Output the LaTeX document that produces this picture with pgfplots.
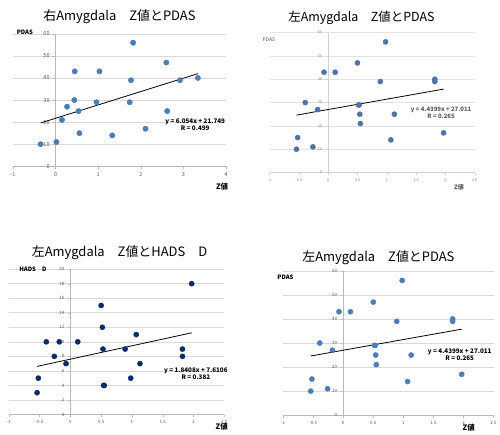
\documentclass[border=0pt]{standalone}
\usepackage{fontspec}
\setmainfont{Noto Sans CJK JP}
\usepackage{pgfplots}
\pgfplotsset{compat=1.18}
\definecolor{mk}{HTML}{4A7EBB}
\definecolor{mk2}{HTML}{4F73A8}
\definecolor{navy}{HTML}{0B2A6E}
\definecolor{tk}{HTML}{595959}

\pgfplotstableread{
x y
-0.35 10
0.02 11
0.15 21
0.27 27
0.44 30
0.54 25
0.56 15
0.45 43
1.03 43
0.96 29
1.33 14
1.74 29
1.77 39
1.82 56
2.11 17
2.60 47
2.62 25
2.92 39
3.34 40
}\rightdata

\pgfplotstableread{
x pdas hads
-0.54 10 3
-0.52 15 5
-0.39 30 10
-0.26 11 8
-0.18 27 10
-0.07 43 7
0.12 43 10
0.50 47 15
0.52 29 12
0.53 29 9
0.54 25 4
0.55 21 4
0.89 39 9
0.98 56 5
1.07 14 11
1.13 25 7
1.82 40 9
1.82 39 8
1.97 17 18
}\leftdata

\pgfplotsset{
  exstyle/.style={
    scale only axis, anchor=south west,
    axis lines=middle, axis line style={-, gray!55},
    hide obscured x ticks=false, hide obscured y ticks=false,
    ymajorgrids, grid style={gray!30, line width=0.6pt},
    tick style={gray!55}, major tick length=2.5pt, tick align=outside,
    /pgf/number format/assume math mode=true,
    clip=false,
  }
}

\begin{document}
\begin{tikzpicture}[x=1pt,y=1pt]
\path (0pt,0pt) rectangle (500pt,434pt);

% ---------- Panel 1 ----------
\begin{axis}[exstyle, at={(13pt,267pt)}, width=214pt, height=133pt,
  xmin=-1, xmax=4, ymin=0, ymax=60,
  xtick={-1,0,...,4}, ytick={0,10,...,60},
  tick label style={font=\fontsize{5.5}{6}\selectfont, text=tk}]
\addplot[only marks, mark=*, mark size=2.7pt, mark options={draw=mk, fill=mk}] table[x=x,y=y]{\rightdata};
\addplot[black, line width=0.8pt] coordinates {(-0.35,19.63) (3.34,41.97)};
\end{axis}
\node[font=\fontsize{13}{14}\selectfont] at (120pt,417pt) {右Amygdala　Z値とPDAS};
\node[font=\bfseries\fontsize{6}{7}\selectfont] at (25pt,402pt) {PDAS};
\node[font=\bfseries\fontsize{7.5}{8}\selectfont] at (223pt,247pt) {Z値};
\node[font=\bfseries\fontsize{6.3}{7}\selectfont, align=center] at (196pt,309pt) {y = 6.054x + 21.749\\R = 0.499};

% ---------- Panel 2 ----------
\begin{axis}[exstyle, at={(270.7pt,260.7pt)}, width=206pt, height=140.6pt,
  xmin=-1, xmax=2.5, ymin=0, ymax=60,
  xtick={-1,-0.5,...,2.5}, ytick={0,10,...,60},
  grid style={gray!22, line width=0.6pt},
  axis line style={-, gray!35}, tick style={gray!35},
  tick label style={font=\fontsize{3.8}{4}\selectfont, text=gray}]
\addplot[only marks, mark=*, mark size=2.6pt, mark options={draw=mk2, fill=mk2}] table[x=x,y=pdas]{\leftdata};
\addplot[black, line width=0.8pt] coordinates {(-0.54,24.61) (1.97,35.76)};
\end{axis}
\node[font=\fontsize{12.5}{14}\selectfont] at (363pt,416pt) {左Amygdala　Z値とPDAS};
\node[font=\fontsize{5}{6}\selectfont, text=tk] at (270pt,394pt) {PDAS};
\node[font=\bfseries\fontsize{6}{7}\selectfont, text=tk] at (461pt,246pt) {Z値};
\node[font=\bfseries\fontsize{6}{7}\selectfont, text=tk, align=center] at (443pt,321pt) {y = 4.4399x + 27.011\\R = 0.265};

% ---------- Panel 3 ----------
\begin{axis}[exstyle, at={(8.8pt,17.7pt)}, width=216.5pt, height=146pt,
  xmin=-1, xmax=2.5, ymin=0, ymax=20,
  xtick={-1,-0.5,...,2.5}, ytick={0,2,...,20},
  tick label style={font=\fontsize{4.5}{5}\selectfont, text=tk}]
\addplot[only marks, mark=*, mark size=2.6pt, mark options={draw=navy, fill=navy}] table[x=x,y=hads]{\leftdata};
\addplot[black, line width=0.8pt] coordinates {(-0.54,6.62) (1.97,11.24)};
\end{axis}
\node[font=\fontsize{13}{14}\selectfont] at (120pt,180.3pt) {左Amygdala　Z値とHADS　D};
\node[font=\bfseries\fontsize{6}{7}\selectfont] at (33pt,163.7pt) {HADS　D};
\node[font=\bfseries\fontsize{7.5}{8}\selectfont] at (222.7pt,5pt) {Z値};
\node[font=\bfseries\fontsize{6.3}{7}\selectfont, align=center] at (196.7pt,59pt) {y = 1.8408x + 7.6106\\R = 0.382};

% ---------- Panel 4 ----------
\begin{axis}[exstyle, at={(284.3pt,17pt)}, width=211.4pt, height=145pt,
  xmin=-1, xmax=2.5, ymin=0, ymax=60,
  xtick={-1,-0.5,...,2.5}, ytick={0,10,...,60},
  tick label style={font=\fontsize{4.5}{5}\selectfont, text=tk}]
\addplot[only marks, mark=*, mark size=2.6pt, mark options={draw=mk, fill=mk}] table[x=x,y=pdas]{\leftdata};
\addplot[black, line width=0.8pt] coordinates {(-0.54,24.61) (1.97,35.76)};
\end{axis}
\node[font=\fontsize{13}{14}\selectfont] at (380pt,175.3pt) {左Amygdala　Z値とPDAS};
\node[font=\bfseries\fontsize{6}{7}\selectfont] at (286.7pt,155.3pt) {PDAS};
\node[font=\bfseries\fontsize{7.5}{8}\selectfont] at (470.7pt,4.7pt) {Z値};
\node[font=\bfseries\fontsize{6.3}{7}\selectfont, align=center] at (461.7pt,78pt) {y = 4.4399x + 27.011\\R = 0.265};
\end{tikzpicture}
\end{document}
